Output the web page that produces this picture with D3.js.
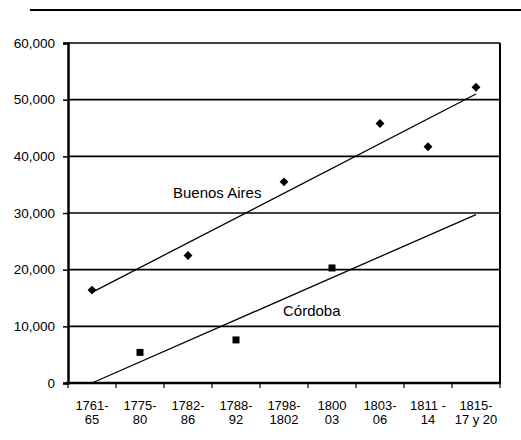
<!DOCTYPE html>
<html>
<head>
<meta charset="utf-8" />
<title>Buenos Aires y Córdoba</title>
<script src="https://d3js.org/d3.v7.min.js"></script>
<style>
  body { margin: 0; background: #fff; }
  text { font-family: Arial, "Liberation Sans", Helvetica, sans-serif; fill: #000; }
  .axis path, .axis line { stroke: #000; }
</style>
</head>
<body>
<div id="chart"></div>
<script>
// periods (two-line labels)
var periods = ["1761-65", "1775-80", "1782-86", "1788-92", "1798-1802", "1800-03", "1803-06", "1811-14", "1815-17 y 20"];
var periodLines = [["1761-", "65"], ["1775-", "80"], ["1782-", "86"], ["1788-", "92"], ["1798-", "1802"], ["1800", "03"], ["1803-", "06"], ["1811 -", "14"], ["1815-", "17 y 20"]];

// Buenos Aires observations
var baPeriods = ["1761-65", "1782-86", "1798-1802", "1803-06", "1811-14", "1815-17 y 20"];
var baValues = [16400, 22500, 35500, 45800, 41700, 52200];

// Córdoba observations
var coPeriods = ["1775-80", "1788-92", "1800-03"];
var coValues = [5400, 7600, 20300];

var yTicks = [0, 10000, 20000, 30000, 40000, 50000, 60000];

var width = 521, height = 440;
var margin = { top: 43, right: 21, bottom: 57, left: 68 };
var w = width - margin.left - margin.right,
    h = height - margin.top - margin.bottom;

var svg = d3.select("#chart").append("svg")
  .attr("width", width)
  .attr("height", height);

// rule above the chart
svg.append("line")
  .attr("x1", 30).attr("x2", 521)
  .attr("y1", 10).attr("y2", 10)
  .attr("stroke", "#000").attr("stroke-width", 2);

var g = svg.append("g")
  .attr("transform", "translate(" + margin.left + "," + margin.top + ")");

var x = d3.scaleBand().domain(periods).range([0, w]);
var y = d3.scaleLinear().domain([0, 60000]).range([h, 0]);

// gridlines
g.selectAll(".grid")
  .data(yTicks.slice(1))
  .enter().append("line")
  .attr("class", "grid")
  .attr("x1", 0).attr("x2", w)
  .attr("y1", function (d) { return y(d); })
  .attr("y2", function (d) { return y(d); })
  .attr("stroke", "#000")
  .attr("stroke-width", 1.6);

// right border
g.append("line")
  .attr("x1", w).attr("x2", w)
  .attr("y1", 0).attr("y2", h)
  .attr("stroke", "#000").attr("stroke-width", 2);

// y axis
var yAxis = g.append("g")
  .attr("class", "axis")
  .call(d3.axisLeft(y).tickValues(yTicks).tickSize(5).tickFormat(d3.format(",")));
yAxis.select(".domain").attr("stroke-width", 2.5);
yAxis.selectAll("line").attr("stroke-width", 1.5);
yAxis.selectAll("text").attr("font-size", 13.5).attr("x", -13);

// x axis, ticks at band boundaries
var xAxis = g.append("g")
  .attr("class", "axis")
  .attr("transform", "translate(0," + h + ")");
xAxis.append("line")
  .attr("x1", -2).attr("x2", w + 1)
  .attr("stroke", "#000").attr("stroke-width", 2.5);
xAxis.selectAll(".tk")
  .data(periods.concat(["end"]))
  .enter().append("line")
  .attr("class", "tk")
  .attr("x1", function (d, i) { return i < periods.length ? x(d) : w; })
  .attr("x2", function (d, i) { return i < periods.length ? x(d) : w; })
  .attr("y1", 0).attr("y2", 5)
  .attr("stroke", "#000").attr("stroke-width", 1.2);
var lbl = xAxis.selectAll(".lbl")
  .data(periods)
  .enter().append("text")
  .attr("class", "lbl")
  .attr("text-anchor", "middle")
  .attr("font-size", 13)
  .attr("transform", function (d) { return "translate(" + (x(d) + x.bandwidth() / 2) + ",27)"; });
lbl.selectAll("tspan")
  .data(function (d, i) { return periodLines[i]; })
  .enter().append("tspan")
  .attr("x", 0)
  .attr("dy", function (d, i) { return i === 0 ? 0 : 14; })
  .text(function (d) { return d; });

// least squares trend on period index
function trend(cats, vals) {
  var xs = cats.map(function (c) { return periods.indexOf(c); });
  var mx = d3.mean(xs), my = d3.mean(vals);
  var sxy = d3.sum(xs, function (v, i) { return (v - mx) * (vals[i] - my); });
  var sxx = d3.sum(xs, function (v) { return (v - mx) * (v - mx); });
  var b = sxy / sxx, a = my - b * mx;
  return [0, periods.length - 1].map(function (i) {
    return { cat: periods[i], value: Math.max(0, a + b * i) };
  });
}

var line = d3.line()
  .x(function (d) { return x(d.cat) + x.bandwidth() / 2; })
  .y(function (d) { return y(d.value); });

g.append("path")
  .datum(trend(baPeriods, baValues))
  .attr("fill", "none").attr("stroke", "#000").attr("stroke-width", 1.3)
  .attr("d", line);
g.append("path")
  .datum(trend(coPeriods, coValues))
  .attr("fill", "none").attr("stroke", "#000").attr("stroke-width", 1.3)
  .attr("d", line);

// Buenos Aires diamonds
g.selectAll(".ba")
  .data(baValues)
  .enter().append("path")
  .attr("class", "ba")
  .attr("d", d3.symbol().type(d3.symbolDiamond2).size(50))
  .attr("transform", function (d, i) {
    return "translate(" + (x(baPeriods[i]) + x.bandwidth() / 2) + "," + y(d) + ")";
  })
  .attr("fill", "#000");

// Córdoba squares
g.selectAll(".co")
  .data(coValues)
  .enter().append("rect")
  .attr("class", "co")
  .attr("x", function (d, i) { return x(coPeriods[i]) + x.bandwidth() / 2 - 3.5; })
  .attr("y", function (d) { return y(d) - 3.5; })
  .attr("width", 7).attr("height", 7)
  .attr("fill", "#000");

// series labels
g.append("text")
  .attr("x", x("1788-92") - 39).attr("y", y(32500) - 1)
  .attr("font-size", 15)
  .text("Buenos Aires");
g.append("text")
  .attr("x", x("1800-03") - 25).attr("y", y(12050) + 1)
  .attr("font-size", 15)
  .text("Córdoba");
</script>
</body>
</html>
